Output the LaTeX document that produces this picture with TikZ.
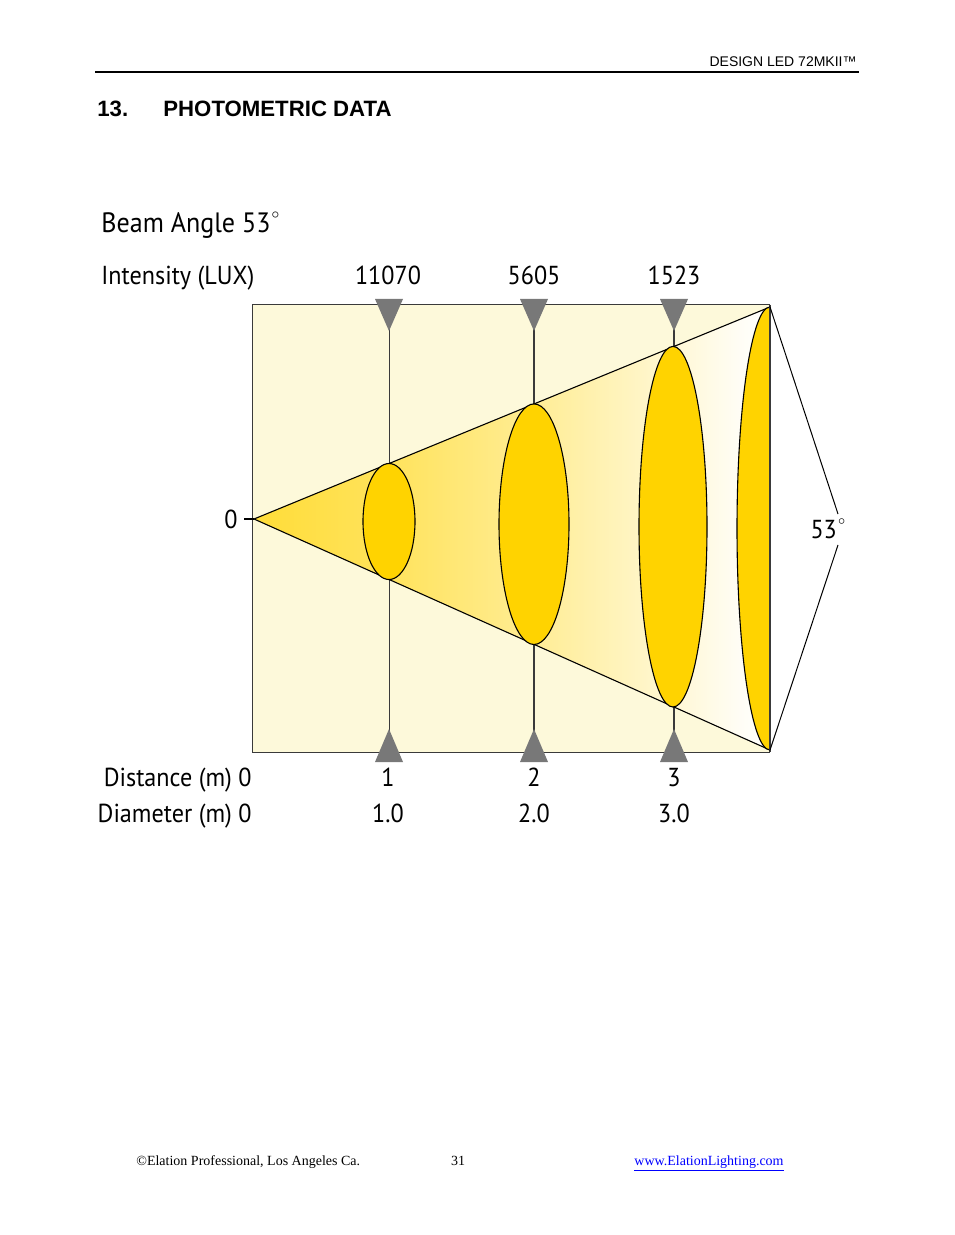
\documentclass[tikz,border=0pt]{standalone}
\usepackage{fontspec}
\setmainfont{Liberation Serif}
\newfontfamily\arialfont{Liberation Sans}
\newfontfamily\diagfont[FakeStretch=0.93]{PT Sans}
\usetikzlibrary{positioning}
\definecolor{boxfill}{HTML}{FDF9DA}
\definecolor{beamgold}{HTML}{FFD300}
\definecolor{markgray}{HTML}{787878}
\definecolor{linkblue}{HTML}{0000FF}
\definecolor{edgegray}{HTML}{3A3A3A}
\pgfdeclarehorizontalshading{conefade}{100bp}{%
  color(0bp)=(beamgold!78!white); color(25bp)=(beamgold!78!white);
  color(38bp)=(beamgold!64!white); color(52bp)=(beamgold!42!white);
  color(65bp)=(beamgold!18!white); color(72bp)=(beamgold!4!white);
  color(75bp)=(white); color(100bp)=(white)}
\newcommand{\degr}{\kern0.5pt\raisebox{1.05ex}{$\scriptscriptstyle\circ$}}
\begin{document}
\begin{tikzpicture}[
  x=0.5pt, y=-0.5pt,
  dlabel/.style={font=\diagfont\fontsize{13}{15}\selectfont,inner sep=0pt},
  marker/.style={fill=markgray,draw=none},
  disc/.style={fill=beamgold,draw=black,line width=0.55pt},
  rule/.style={draw=edgegray,line width=0.5pt}
]
  \useasboundingbox (0,0) rectangle (954,1235);
  % page header
  \draw[line width=0.55pt] (95,72) -- (859,72);
  \node[font=\arialfont\fontsize{7}{8}\selectfont,inner sep=0pt,anchor=base east] (head) at (857,67) {DESIGN LED 72MKII\texttrademark};
  \node[font=\arialfont\bfseries\fontsize{11.1}{12}\selectfont,inner sep=0pt,anchor=base west] (secnum) at (97,117) {13.};
  \node[font=\arialfont\bfseries\fontsize{11.1}{12}\selectfont,inner sep=0pt,anchor=base west] (sectitle) at (163,117) {PHOTOMETRIC DATA};
  % box
  \coordinate (apex) at (254,519);
  \coordinate (tr) at (770,307);
  \coordinate (br) at (770,750);
  \fill[boxfill] (252,305) rectangle (770,752);
  \draw[rule] (770,305) -- (252,305) -- (252,752) -- (770,752);
  \draw[draw=edgegray,line width=1pt] (770,305) -- (770,752);
  % distance lines
  \draw[rule] (389,305) -- (389,752);
  \draw[rule,line width=0.7pt] (534,305) -- (534,752);
  \draw[rule,line width=0.7pt] (674,305) -- (674,752);
  % beam
  \shade[shading=conefade] (apex) -- (tr) -- (br) -- cycle;
  \draw[line width=0.55pt] (tr) -- (apex) -- (br);
  \draw[disc] (389,521.5) ellipse [x radius=26, y radius=58];
  \draw[disc] (534,524.2) ellipse [x radius=35, y radius=120.3];
  \draw[disc] (673,526.7) ellipse [x radius=34, y radius=180.3];
  \draw[disc] (tr) arc [start angle=-90, end angle=-270, x radius=33, y radius=221.5];
  \draw[draw=edgegray,line width=1pt] (tr) -- (br);
  % markers
  \foreach \xm in {389,534,674} {
    \fill[marker] (\xm-14,299) -- (\xm+14,299) -- (\xm,331) -- cycle;
    \fill[marker] (\xm-14,762) -- (\xm+14,762) -- (\xm,729) -- cycle;
  }
  % angle
  \coordinate (ang1) at (838,514);
  \coordinate (ang2) at (838,545);
  \draw[line width=0.5pt] (tr) -- (ang1);
  \draw[line width=0.5pt] (ang2) -- (br);
  \node[dlabel,anchor=base] (angle) at (828,538) {53\degr};
  \draw[line width=0.55pt] (244,519) -- (apex);
  \node[dlabel,anchor=base] (zero) at (231,528) {0};
  % texts
  \node[dlabel,font=\diagfont\fontsize{14}{16}\selectfont,anchor=base west] (title) at (101,233) {Beam Angle 53\degr};
  \node[dlabel,anchor=base west] (intens) at (101,285) {Intensity (LUX)};
  \node[dlabel,anchor=base] (lux1) at (388,285) {11070};
  \node[dlabel,anchor=base] (lux2) at (534,285) {5605};
  \node[dlabel,anchor=base] (lux3) at (674,285) {1523};
  \node[dlabel,anchor=base east] (dist) at (252,786) {Distance (m) 0};
  \node[dlabel,anchor=base] (dist1) at (388,786) {1};
  \node[dlabel,anchor=base] (dist2) at (534,786) {2};
  \node[dlabel,anchor=base] (dist3) at (674,786) {3};
  \node[dlabel,anchor=base east] (diam) at (252,822) {Diameter (m) 0};
  \node[dlabel,anchor=base] (diam1) at (388,822) {1.0};
  \node[dlabel,anchor=base] (diam2) at (534,822) {2.0};
  \node[dlabel,anchor=base] (diam3) at (674,822) {3.0};
  % page footer
  \node[font=\fontsize{7}{8}\selectfont,inner sep=0pt,anchor=base west] (copy) at (136,1165) {\textcopyright Elation Professional, Los Angeles Ca.};
  \node[font=\fontsize{7}{8}\selectfont,inner sep=0pt,anchor=base] (page) at (458,1165) {31};
  \node[font=\fontsize{7}{8}\selectfont,inner sep=0pt,anchor=base west,text=linkblue] (url) at (634,1165) {\underline{www.ElationLighting.com}};
\end{tikzpicture}
\end{document}
